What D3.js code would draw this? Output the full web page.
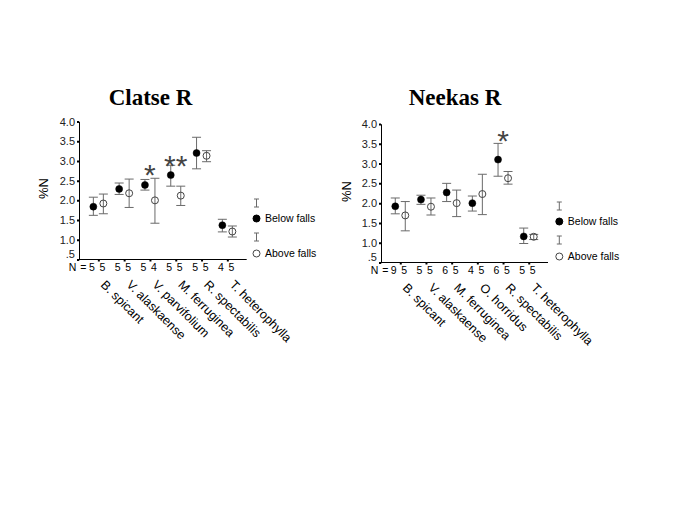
<!DOCTYPE html>
<html><head><meta charset="utf-8">
<script src="https://cdn.jsdelivr.net/npm/d3@7"></script>
<style>body{margin:0;background:#fff;} svg{display:block;}</style>
</head><body>
<script>
// ---------- data ----------
const yTicks = [4.0, 3.5, 3.0, 2.5, 2.0, 1.5, 1.0, 0.5];
const yTickLabels = ["4.0", "3.5", "3.0", "2.5", "2.0", "1.5", "1.0", ".5"];
const seriesNames = ["Below falls", "Above falls"];

const clatseTitle = "Clatse R";
const clatseCategories = ["B. spicant", "V. alaskaense", "V. parvifolium", "M. ferruginea", "R. spectabilis", "T. heterophylla"];
const clatseBelowMean = [1.84, 2.29, 2.39, 2.64, 3.20, 1.37];
const clatseBelowLow  = [1.62, 2.15, 2.26, 2.36, 2.80, 1.20];
const clatseBelowHigh = [2.08, 2.44, 2.53, 2.89, 3.60, 1.52];
const clatseAboveMean = [1.92, 2.18, 2.00, 2.12, 3.13, 1.21];
const clatseAboveLow  = [1.66, 1.82, 1.42, 1.87, 2.98, 1.07];
const clatseAboveHigh = [2.16, 2.54, 2.56, 2.36, 3.26, 1.35];
const clatseNBelow = [5, 5, 5, 5, 5, 4];
const clatseNAbove = [5, 5, 4, 5, 5, 5];
const clatseSig = ["", "", "*", "**", "", ""];
const clatseSigValue = [0, 0, 2.82, 3.05, 0, 0];

const neekasTitle = "Neekas R";
const neekasCategories = ["B. spicant", "V. alaskaense", "M. ferruginea", "O. horridus", "R. spectabilis", "T. heterophylla"];
const neekasBelowMean = [1.92, 2.09, 2.27, 2.00, 3.10, 1.16];
const neekasBelowLow  = [1.73, 1.97, 2.04, 1.80, 2.68, 0.98];
const neekasBelowHigh = [2.13, 2.20, 2.50, 2.18, 3.51, 1.37];
const neekasAboveMean = [1.69, 1.91, 2.00, 2.23, 2.63, 1.15];
const neekasAboveLow  = [1.30, 1.70, 1.66, 1.71, 2.48, 1.08];
const neekasAboveHigh = [2.04, 2.13, 2.33, 2.73, 2.80, 1.21];
const neekasNBelow = [9, 5, 6, 4, 6, 5];
const neekasNAbove = [5, 5, 5, 5, 5, 5];
const neekasSig = ["", "", "", "", "*", ""];
const neekasSigValue = [0, 0, 0, 0, 3.75, 0];

// ---------- drawing ----------
const W = 685, H = 513;
const svg = d3.select("body").append("svg").attr("width", W).attr("height", H);
const barColor = "#6a6a6a";
const sans = "Liberation Sans, Arial, sans-serif";

function panel(cfg) {
  const g = svg.append("g");
  const x = d3.scalePoint().domain(cfg.categories).range([cfg.x0, cfg.x1]).padding(0.75);
  const y = d3.scaleLinear().domain([0.5, 4.0]).range([cfg.yBottom, cfg.yTop]);

  // title
  g.append("text").attr("x", cfg.titleX).attr("y", 105).attr("text-anchor", "middle")
    .attr("font-family", "Liberation Serif, Times New Roman, serif").attr("font-weight", "bold")
    .attr("font-size", 23).text(cfg.title);

  // y axis
  const yAxis = d3.axisLeft(y).tickValues(yTicks)
    .tickFormat((d, i) => yTickLabels[i]).tickSize(2).tickPadding(2);
  const ya = g.append("g").attr("transform", `translate(${cfg.x0},0)`).call(yAxis);
  ya.select(".domain").attr("stroke", "#000").attr("stroke-width", 1);
  ya.selectAll(".tick line").attr("stroke", "#000").attr("stroke-width", 2);
  ya.selectAll(".tick text").attr("font-family", sans)
    .attr("font-size", 11).attr("fill", "#222")
    .attr("dy", d => d === 0.5 ? "-0.15em" : "0.32em");

  // x axis
  const xAxis = d3.axisBottom(x).tickSize(2).tickFormat("");
  const xa = g.append("g").attr("transform", `translate(0,${cfg.yBottom})`).call(xAxis);
  xa.select(".domain").attr("stroke", "#000").attr("stroke-width", 1).attr("d", `M${cfg.x0},0H${cfg.x1}`);
  xa.selectAll(".tick line").attr("stroke", "#000").attr("stroke-width", 2);

  // y label
  g.append("text").attr("transform", `translate(${cfg.ylabX},${cfg.ylabY}) rotate(-90)`)
    .attr("text-anchor", "middle").attr("font-family", sans)
    .attr("font-size", 13).text("%N");

  // N labels
  const nY = cfg.yBottom + 11.5;
  cfg.categories.forEach((c, i) => {
    [[cfg.nBelow[i], -6.5], [cfg.nAbove[i], 4]].forEach(([n, off]) => {
      g.append("text").attr("x", x(c) + off).attr("y", nY).attr("text-anchor", "middle")
        .attr("font-family", sans).attr("font-size", 10.5).text(n);
    });
  });
  g.append("text").attr("x", x(cfg.categories[0]) - 12).attr("y", nY)
    .attr("text-anchor", "end").attr("font-family", sans).attr("font-size", 10.5)
    .attr("word-spacing", 1).text("N =");

  // category labels
  g.selectAll(".cat").data(cfg.categories).enter().append("text")
    .attr("transform", d => `translate(${x(d) + 1.7},${cfg.yBottom + 26}) rotate(45)`)
    .attr("font-family", sans).attr("font-size", 12.5)
    .text(d => d);

  // error bars and points
  const series = [
    {mean: cfg.belowMean, lo: cfg.belowLow, hi: cfg.belowHigh, off: -5, filled: true},
    {mean: cfg.aboveMean, lo: cfg.aboveLow, hi: cfg.aboveHigh, off: 5, filled: false}
  ];
  series.forEach(s => {
    cfg.categories.forEach((c, i) => {
      const cx = x(c) + s.off;
      const eb = g.append("g").attr("stroke", barColor).attr("stroke-width", 1).attr("fill", "none");
      eb.append("line").attr("x1", cx).attr("x2", cx).attr("y1", y(s.lo[i])).attr("y2", y(s.hi[i]));
      eb.append("line").attr("x1", cx - 4.5).attr("x2", cx + 4.5).attr("y1", y(s.lo[i])).attr("y2", y(s.lo[i]));
      eb.append("line").attr("x1", cx - 4.5).attr("x2", cx + 4.5).attr("y1", y(s.hi[i])).attr("y2", y(s.hi[i]));
      g.append("circle").attr("cx", cx).attr("cy", y(s.mean[i])).attr("r", 3.5)
        .attr("fill", s.filled ? "#000" : "none").attr("stroke", s.filled ? "#000" : "#444")
        .attr("stroke-width", s.filled ? 0.5 : 1);
    });
  });

  // significance markers
  cfg.categories.forEach((c, i) => {
    if (!cfg.sig[i]) return;
    g.append("text").attr("x", x(c)).attr("y", y(cfg.sigValue[i]) + 17)
      .attr("text-anchor", "middle").attr("font-family", sans)
      .attr("font-size", 30).attr("fill", "#444").text(cfg.sig[i]);
  });

  // legend
  const lx = cfg.legX, ly = cfg.legY;
  const legRows = [
    {dy: 0, type: "bar"}, {dy: 15.5, type: "filled", label: seriesNames[0]},
    {dy: 34, type: "bar"}, {dy: 50.5, type: "open", label: seriesNames[1]}
  ];
  legRows.forEach(r => {
    const cy = ly + r.dy;
    if (r.type === "bar") {
      const lb = g.append("g").attr("stroke", barColor).attr("stroke-width", 1);
      lb.append("line").attr("x1", lx).attr("x2", lx).attr("y1", cy - 4).attr("y2", cy + 4);
      lb.append("line").attr("x1", lx - 2.5).attr("x2", lx + 2.5).attr("y1", cy - 4).attr("y2", cy - 4);
      lb.append("line").attr("x1", lx - 2.5).attr("x2", lx + 2.5).attr("y1", cy + 4).attr("y2", cy + 4);
    } else {
      g.append("circle").attr("cx", lx).attr("cy", cy).attr("r", 3.5)
        .attr("fill", r.type === "filled" ? "#000" : "none").attr("stroke", r.type === "filled" ? "#000" : "#444");
      g.append("text").attr("x", lx + 8.5).attr("y", cy + 3.7)
        .attr("font-family", sans).attr("font-size", 10.5).text(r.label);
    }
  });
}

panel({
  title: clatseTitle, titleX: 150.5, categories: clatseCategories,
  x0: 79, x1: 246.7, yTop: 121.5, yBottom: 259.5, ylabX: 48, ylabY: 188.5,
  belowMean: clatseBelowMean, belowLow: clatseBelowLow, belowHigh: clatseBelowHigh,
  aboveMean: clatseAboveMean, aboveLow: clatseAboveLow, aboveHigh: clatseAboveHigh,
  nBelow: clatseNBelow, nAbove: clatseNAbove, sig: clatseSig, sigValue: clatseSigValue,
  legX: 256.5, legY: 203
});
panel({
  title: neekasTitle, titleX: 455, categories: neekasCategories,
  x0: 381, x1: 548, yTop: 124, yBottom: 262.5, ylabX: 351, ylabY: 191.5,
  belowMean: neekasBelowMean, belowLow: neekasBelowLow, belowHigh: neekasBelowHigh,
  aboveMean: neekasAboveMean, aboveLow: neekasAboveLow, aboveHigh: neekasAboveHigh,
  nBelow: neekasNBelow, nAbove: neekasNAbove, sig: neekasSig, sigValue: neekasSigValue,
  legX: 559.3, legY: 206
});
</script>
</body></html>
